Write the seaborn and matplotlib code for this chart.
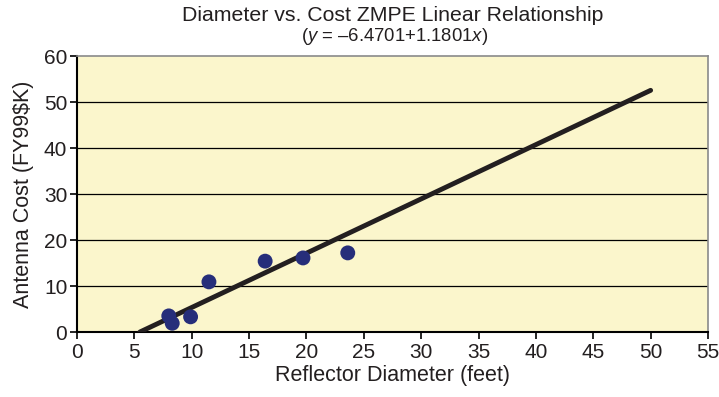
import numpy as np
import matplotlib
matplotlib.use("Agg")
import matplotlib.pyplot as plt
import seaborn as sns
import pandas as pd

diameter = [8.0, 8.3, 9.9, 11.5, 16.4, 19.7, 23.6]
cost = [3.5, 1.9, 3.3, 10.9, 15.4, 16.1, 17.2]
intercept = -6.4701
slope = 1.1801
line_x = [6.4701 / 1.1801, 50.0]

sns.set_theme(style="white")
plt.rcParams['font.family'] = ['Liberation Sans', 'DejaVu Sans']
plt.rcParams['mathtext.fontset'] = 'custom'
plt.rcParams['mathtext.it'] = 'Liberation Sans:italic'
plt.rcParams['mathtext.rm'] = 'Liberation Sans'

fig = plt.figure(figsize=(7.19, 3.97), dpi=100)
ax = fig.add_axes([77/719, 1-332/397, (708-77)/719, (332-56)/397])
ax.set_facecolor('#FBF6CC')

df = pd.DataFrame({'x': diameter, 'y': cost})
lx = np.array(line_x)
ldf = pd.DataFrame({'x': lx, 'y': intercept + slope * lx})
sns.lineplot(data=ldf, x='x', y='y', ax=ax, color='#231F20', lw=3.5, zorder=3)
sns.scatterplot(data=df, x='x', y='y', ax=ax, color='#262E7A', s=115, edgecolor='none', zorder=4)

ax.set_xlim(0, 55)
ax.set_ylim(0, 60)
ax.set_xticks(range(0, 56, 5))
ax.set_yticks(range(0, 61, 10))
for yv in range(10, 60, 10):
    ax.axhline(yv, color='black', lw=0.9, zorder=1)
ax.tick_params(axis='both', which='both', direction='out', length=5, width=1.2,
               color='black', labelsize=15, pad=2, bottom=True, left=True)
ax.tick_params(axis='x', pad=3)
for s in ['left', 'bottom']:
    ax.spines[s].set_color('black')
    ax.spines[s].set_linewidth(1.5)
for s in ['top', 'right']:
    ax.spines[s].set_color('#8a8a8a')
    ax.spines[s].set_linewidth(1.2)
ax.set_xlabel('Reflector Diameter (feet)', fontsize=15.5, color='#231F20', labelpad=2)
ax.set_ylabel('Antenna Cost (FY99$K)', fontsize=15.5, color='#231F20', labelpad=7)
for lab in ax.get_xticklabels() + ax.get_yticklabels():
    lab.set_color('#231F20')

fig.text(393/719, 1-21/397, 'Diameter vs. Cost ZMPE Linear Relationship', ha='center', va='baseline',
         fontsize=15.3, color='#231F20')
fig.text(394.5/719, 1-41/397, r'($\it{y}$ = –6.4701+1.1801$\it{x}$)', ha='center', va='baseline',
         fontsize=13.3, color='#231F20')

fig.savefig('out.png', dpi=100)
